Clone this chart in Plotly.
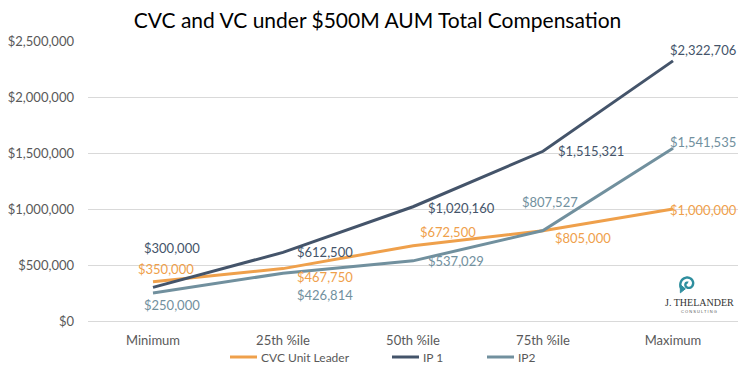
import math
import plotly.graph_objects as go

categories = ["Minimum", "25th %ile", "50th %ile", "75th %ile", "Maximum"]
cvc_unit_leader = [350000, 467750, 672500, 805000, 1000000]
ip1 = [300000, 612500, 1020160, 1515321, 2322706]
ip2 = [250000, 426814, 537029, 807527, 1541535]
y_ticks = [0, 500000, 1000000, 1500000, 2000000, 2500000]
series_names = ["CVC Unit Leader", "IP 1", "IP2"]

C_CVC = "#EFA04B"
C_IP1 = "#44546A"
C_IP2 = "#71909E"
C_TXT = "#595959"

# label offsets in pixels (dx right, dy down)
off_cvc = [(13, -13), (42, 8), (35, -14), (40, 7), (30, 1)]
off_ip1 = [(19, -39), (42, 0), (48, 1), (48, 0), (30, -11)]
off_ip2 = [(19, 12), (42, 22), (43, 0), (7, -29), (30, -6)]

FONT = "Lato"
# page body has an 8px default margin; size the figure so it fits the 747x366 window
OFF = 8
W, H = 747 - OFF, 366 - OFF
# plot area in window pixels: x 88..738, y 41..321
PX0, PX1, PY0, PY1 = 88, 738, 41, 321
L, R = PX0 - OFF, W - (PX1 - OFF)
T, B = PY0 - OFF, H - (PY1 - OFF)

fig = go.Figure()
cols = [C_CVC, C_IP1, C_IP2]
for name, vals, col in zip(series_names, [cvc_unit_leader, ip1, ip2], cols):
    fig.add_trace(go.Scatter(x=categories, y=vals, mode="lines", name=name,
                             line=dict(color=col, width=3), showlegend=False,
                             hoverinfo="skip"))

ann = []
for vals, col, offs in [(cvc_unit_leader, C_CVC, off_cvc), (ip1, C_IP1, off_ip1), (ip2, C_IP2, off_ip2)]:
    for c, v, (dx, dy) in zip(categories, vals, offs):
        ann.append(dict(x=c, y=v, xref="x", yref="y", text="${:,.0f}".format(v),
                        showarrow=False, xshift=dx, yshift=-dy, xanchor="center", yanchor="middle",
                        font=dict(family=FONT, size=13, color=col)))

def px(xp):
    return (xp - PX0) / (PX1 - PX0)

def py(yp):
    return (PY1 - yp) / (PY1 - PY0)

shapes = []
# manual legend
leg_x = [230, 392, 487]
leg_y = 357
for name, col, x0 in zip(series_names, cols, leg_x):
    shapes.append(dict(type="line", xref="paper", yref="paper",
                       x0=px(x0), x1=px(x0 + 27), y0=py(leg_y), y1=py(leg_y),
                       line=dict(color=col, width=3)))
    ann.append(dict(x=px(x0 + 29), y=py(leg_y), xref="paper", yref="paper", text=name,
                    showarrow=False, xanchor="left", yanchor="middle",
                    font=dict(family=FONT, size=12, color=C_TXT)))

# logo text
ann.append(dict(x=px(699), y=py(302), xref="paper", yref="paper", text="J. THELANDER",
                showarrow=False, xanchor="center", yanchor="middle",
                font=dict(family="Liberation Serif", size=10, color="#333333")))
ann.append(dict(x=px(699), y=py(311), xref="paper", yref="paper",
                text="C O N S U L T I N G",
                showarrow=False, xanchor="center", yanchor="middle",
                font=dict(family="Liberation Sans", size=4, color="#555555")))

# spiral logo path
cx, cy = 688, 284
pts = []
n = 80
for i in range(n + 1):
    t = i / n * 2.7 * math.pi
    r = 1.2 + 7.0 * (i / n)
    pts.append((cx + r * math.cos(t + math.pi / 2), cy - r * math.sin(t + math.pi / 2)))
path = "M " + " L ".join("{:.4f},{:.4f}".format(px(a), py(b)) for a, b in pts)
shapes.append(dict(type="path", path=path, xref="paper", yref="paper",
                   line=dict(color="#2E8E9E", width=2.4)))
# small arrow head at spiral end
ex, ey = pts[-1]
arrow = "M {:.4f},{:.4f} L {:.4f},{:.4f} L {:.4f},{:.4f} Z".format(
    px(ex + 4), py(ey), px(ex - 1), py(ey - 4), px(ex - 1), py(ey + 4))
shapes.append(dict(type="path", path=arrow, xref="paper", yref="paper",
                   fillcolor="#2E8E9E", line=dict(color="#2E8E9E", width=1)))

fig.update_layout(
    width=W, height=H,
    margin=dict(l=L, r=R, t=T, b=B, autoexpand=False),
    paper_bgcolor="white", plot_bgcolor="white",
    title=dict(text="CVC and VC under $500M AUM Total Compensation", x=0.5, xanchor="center",
               y=1 - (21 - OFF) / H, yanchor="middle", font=dict(family=FONT, size=21, color="#000000")),
    xaxis=dict(type="category", showgrid=False, showline=True, linecolor="#D9D9D9",
               ticks="", tickfont=dict(family=FONT, size=13, color=C_TXT),
               ticklabelstandoff=7,
               range=[-0.5, 4.5], fixedrange=True, automargin=False),
    yaxis=dict(range=[0, 2500000], tickvals=y_ticks,
               ticktext=["${:,.0f}".format(v) for v in y_ticks],
               showgrid=True, gridcolor="#D9D9D9", gridwidth=1, zeroline=False,
               tickfont=dict(family=FONT, size=13, color=C_TXT),
               ticklabelstandoff=13, fixedrange=True, automargin=False),
    showlegend=False,
    annotations=ann,
    shapes=shapes,
)

fig.write_html("out.html")
